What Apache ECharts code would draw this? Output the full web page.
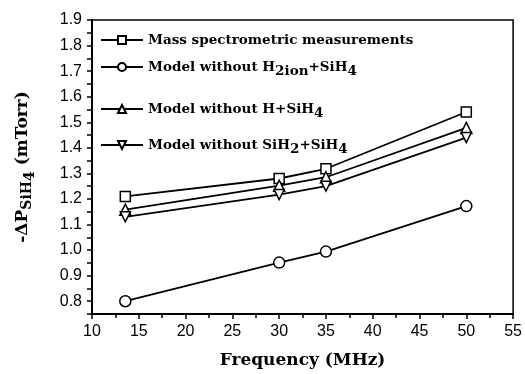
<!DOCTYPE html>
<html>
<head>
<meta charset="utf-8">
<script src="https://cdn.jsdelivr.net/npm/echarts@6/dist/echarts.min.js"></script>
<style>
  html, body { margin: 0; padding: 0; background: #fff; }
  #chart { width: 525px; height: 374px; }
</style>
</head>
<body>
<div id="chart"></div>
<script>
// frequencies (MHz)
const freq = [13.56, 30, 35, 50]
// -dP SiH4 (mTorr)
const massSpec = [1.21, 1.28, 1.318, 1.54]
const noH2ion = [0.80, 0.951, 0.994, 1.172]
const noH = [1.158, 1.252, 1.285, 1.478]
const noSiH2 = [1.13, 1.217, 1.25, 1.44]

const names = [
  'Mass spectrometric measurements',
  'Model without H{s|2ion}+SiH{s|4}',
  'Model without H+SiH{s|4}',
  'Model without SiH{s|2}+SiH{s|4}'
]
const symbols = ['rect', 'circle', 'triangle', 'triangle']
const rotates = [0, 0, 0, 180]
const sizes = [10, 11, 11, 10]
const seriesData = [massSpec, noH2ion, noH, noSiH2]
const legendTops = [28, 55, 97, 133]

const serif = '"DejaVu Serif", "Liberation Serif", serif'
const sans = '"Liberation Sans", Arial, sans-serif'
const richText = {
  fontFamily: serif,
  fontWeight: 'bold',
  fontSize: 13.5,
  color: '#000',
  rich: {
    s: { fontFamily: serif, fontWeight: 'bold', fontSize: 13.5, color: '#000', padding: [9, 0, 0, 0] }
  }
}

const chart = echarts.init(document.getElementById('chart'))
chart.setOption({
  animation: false,
  grid: { left: 92, right: 11, top: 20, bottom: 57, show: true, borderColor: '#000', borderWidth: 1.5 },
  legend: names.map((n, i) => ({
    left: 95,
    top: legendTops[i],
    orient: 'vertical',
    itemWidth: 42,
    itemHeight: 10,
    itemGap: 0,
    data: [n],
    formatter: n,
    textStyle: richText
  })),
  xAxis: {
    type: 'value',
    min: 10,
    max: 55,
    interval: 5,
    name: 'Frequency (MHz)',
    nameLocation: 'middle',
    nameGap: 38,
    nameTextStyle: { fontFamily: serif, fontWeight: 'bold', fontSize: 17, color: '#000' },
    axisLine: { lineStyle: { color: '#000', width: 2 } },
    axisTick: { length: 5, lineStyle: { color: '#000', width: 1.5 } },
    minorTick: { show: true, splitNumber: 2, length: 4, lineStyle: { color: '#000', width: 1.5 } },
    splitLine: { show: false },
    axisLabel: { fontFamily: sans, fontSize: 16, color: '#000', margin: 10 }
  },
  yAxis: {
    type: 'value',
    min: 0.75,
    max: 1.9,
    interval: 0.05,
    name: '-ΔP{a|SiH}{b|4} (mTorr)',
    nameLocation: 'middle',
    nameRotate: 90,
    nameGap: 55,
    nameTextStyle: {
      fontFamily: serif, fontWeight: 'bold', fontSize: 17, color: '#000',
      rich: {
        a: { fontFamily: serif, fontWeight: 'bold', fontSize: 14, color: '#000', padding: [8, 0, 0, 0] },
        b: { fontFamily: serif, fontWeight: 'bold', fontSize: 14, color: '#000', padding: [14, 0, 0, 0] }
      }
    },
    axisLine: { show: true, lineStyle: { color: '#000', width: 2 } },
    axisTick: { show: true, length: 5, lineStyle: { color: '#000', width: 1.5 } },
    splitLine: { show: false },
    axisLabel: {
      fontFamily: sans, fontSize: 16, color: '#000', margin: 10,
      formatter: v => Math.round(v * 100) % 10 === 0 ? v.toFixed(1) : ''
    }
  },
  series: names.map((n, i) => ({
    name: n,
    type: 'line',
    data: freq.map((f, j) => [f, seriesData[i][j]]),
    symbol: symbols[i],
    symbolRotate: rotates[i],
    symbolSize: sizes[i],
    showAllSymbol: true,
    lineStyle: { color: '#000', width: 1.8 },
    itemStyle: { color: '#fff', borderColor: '#000', borderWidth: 1.5 }
  }))
})
</script>
</body>
</html>
